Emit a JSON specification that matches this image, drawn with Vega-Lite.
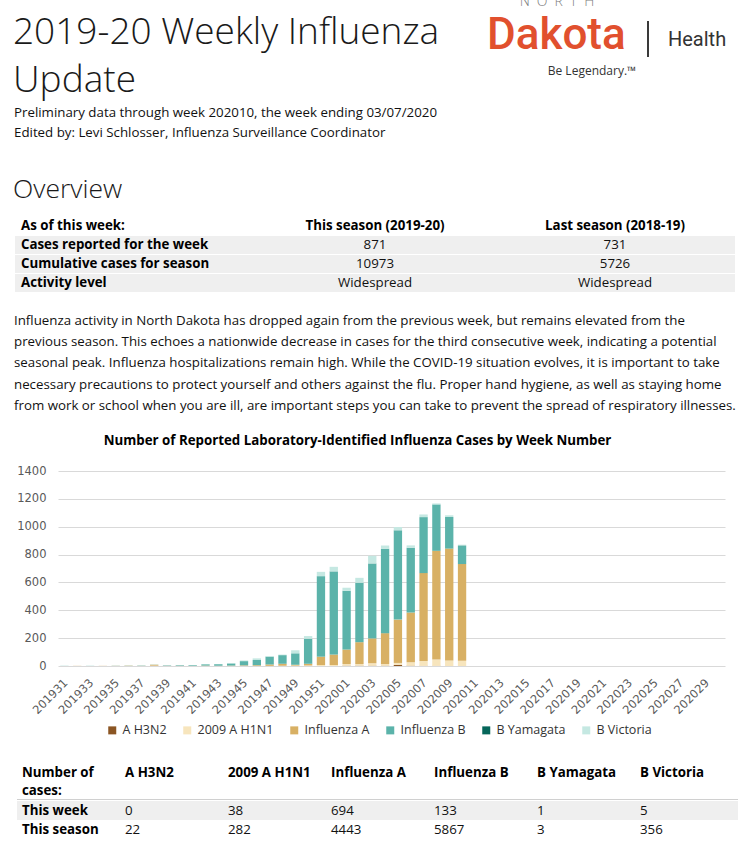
{
  "$schema": "https://vega.github.io/schema/vega-lite/v6.json",
  "padding": 0,
  "background": "white",
  "bounds": "flush",
  "spacing": 0,
  "config": {"view": {"stroke": null}, "font": "Open Sans"},
  "datasets": {
    "flu": [
      {"week":"201931","type":"Influenza B","cases":1},
      {"week":"201932","type":"Influenza A","cases":1},
      {"week":"201933","type":"Influenza B","cases":1},
      {"week":"201934","type":"Influenza A","cases":1},
      {"week":"201935","type":"Influenza A","cases":1},{"week":"201935","type":"Influenza B","cases":1},
      {"week":"201936","type":"Influenza A","cases":2},{"week":"201936","type":"Influenza B","cases":1},
      {"week":"201937","type":"Influenza A","cases":1},{"week":"201937","type":"Influenza B","cases":2},
      {"week":"201938","type":"A H3N2","cases":1},{"week":"201938","type":"2009 A H1N1","cases":2},{"week":"201938","type":"Influenza A","cases":6},{"week":"201938","type":"Influenza B","cases":1},
      {"week":"201939","type":"Influenza A","cases":1},{"week":"201939","type":"Influenza B","cases":3},
      {"week":"201940","type":"Influenza A","cases":1},{"week":"201940","type":"Influenza B","cases":4},
      {"week":"201941","type":"Influenza A","cases":1},{"week":"201941","type":"Influenza B","cases":5},{"week":"201941","type":"B Victoria","cases":1},
      {"week":"201942","type":"2009 A H1N1","cases":1},{"week":"201942","type":"Influenza A","cases":2},{"week":"201942","type":"Influenza B","cases":9},{"week":"201942","type":"B Victoria","cases":1},
      {"week":"201943","type":"2009 A H1N1","cases":1},{"week":"201943","type":"Influenza A","cases":1},{"week":"201943","type":"Influenza B","cases":11},{"week":"201943","type":"B Victoria","cases":1},
      {"week":"201944","type":"2009 A H1N1","cases":1},{"week":"201944","type":"Influenza A","cases":2},{"week":"201944","type":"Influenza B","cases":15},{"week":"201944","type":"B Victoria","cases":2},
      {"week":"201945","type":"A H3N2","cases":1},{"week":"201945","type":"2009 A H1N1","cases":1},{"week":"201945","type":"Influenza A","cases":3},{"week":"201945","type":"Influenza B","cases":30},{"week":"201945","type":"B Victoria","cases":5},
      {"week":"201946","type":"2009 A H1N1","cases":1},{"week":"201946","type":"Influenza A","cases":5},{"week":"201946","type":"Influenza B","cases":37},{"week":"201946","type":"B Victoria","cases":12},
      {"week":"201947","type":"2009 A H1N1","cases":1},{"week":"201947","type":"Influenza A","cases":10},{"week":"201947","type":"Influenza B","cases":56},{"week":"201947","type":"B Victoria","cases":5},
      {"week":"201948","type":"2009 A H1N1","cases":2},{"week":"201948","type":"Influenza A","cases":14},{"week":"201948","type":"Influenza B","cases":62},{"week":"201948","type":"B Victoria","cases":4},
      {"week":"201949","type":"2009 A H1N1","cases":3},{"week":"201949","type":"Influenza A","cases":6},{"week":"201949","type":"Influenza B","cases":82},{"week":"201949","type":"B Victoria","cases":22},
      {"week":"201950","type":"2009 A H1N1","cases":4},{"week":"201950","type":"Influenza A","cases":12},{"week":"201950","type":"Influenza B","cases":180},{"week":"201950","type":"B Victoria","cases":19},
      {"week":"201951","type":"2009 A H1N1","cases":7},{"week":"201951","type":"Influenza A","cases":60},{"week":"201951","type":"Influenza B","cases":578},{"week":"201951","type":"B Victoria","cases":31},
      {"week":"201952","type":"2009 A H1N1","cases":7},{"week":"201952","type":"Influenza A","cases":75},{"week":"201952","type":"Influenza B","cases":596},{"week":"201952","type":"B Yamagata","cases":1},{"week":"201952","type":"B Victoria","cases":33},
      {"week":"202001","type":"A H3N2","cases":2},{"week":"202001","type":"2009 A H1N1","cases":12},{"week":"202001","type":"Influenza A","cases":104},{"week":"202001","type":"Influenza B","cases":422},{"week":"202001","type":"B Victoria","cases":22},
      {"week":"202002","type":"A H3N2","cases":2},{"week":"202002","type":"2009 A H1N1","cases":12},{"week":"202002","type":"Influenza A","cases":157},{"week":"202002","type":"Influenza B","cases":427},{"week":"202002","type":"B Victoria","cases":35},
      {"week":"202003","type":"A H3N2","cases":2},{"week":"202003","type":"2009 A H1N1","cases":18},{"week":"202003","type":"Influenza A","cases":178},{"week":"202003","type":"Influenza B","cases":537},{"week":"202003","type":"B Yamagata","cases":1},{"week":"202003","type":"B Victoria","cases":55},
      {"week":"202004","type":"A H3N2","cases":2},{"week":"202004","type":"2009 A H1N1","cases":12},{"week":"202004","type":"Influenza A","cases":222},{"week":"202004","type":"Influenza B","cases":605},{"week":"202004","type":"B Victoria","cases":24},
      {"week":"202005","type":"A H3N2","cases":8},{"week":"202005","type":"2009 A H1N1","cases":14},{"week":"202005","type":"Influenza A","cases":311},{"week":"202005","type":"Influenza B","cases":641},{"week":"202005","type":"B Victoria","cases":24},
      {"week":"202006","type":"A H3N2","cases":2},{"week":"202006","type":"2009 A H1N1","cases":25},{"week":"202006","type":"Influenza A","cases":357},{"week":"202006","type":"Influenza B","cases":465},{"week":"202006","type":"B Victoria","cases":17},
      {"week":"202007","type":"A H3N2","cases":1},{"week":"202007","type":"2009 A H1N1","cases":35},{"week":"202007","type":"Influenza A","cases":631},{"week":"202007","type":"Influenza B","cases":402},{"week":"202007","type":"B Victoria","cases":19},
      {"week":"202008","type":"A H3N2","cases":1},{"week":"202008","type":"2009 A H1N1","cases":45},{"week":"202008","type":"Influenza A","cases":781},{"week":"202008","type":"Influenza B","cases":333},{"week":"202008","type":"B Victoria","cases":7},
      {"week":"202009","type":"2009 A H1N1","cases":40},{"week":"202009","type":"Influenza A","cases":803},{"week":"202009","type":"Influenza B","cases":227},{"week":"202009","type":"B Victoria","cases":12},
      {"week":"202010","type":"A H3N2","cases":0},{"week":"202010","type":"2009 A H1N1","cases":38},{"week":"202010","type":"Influenza A","cases":694},{"week":"202010","type":"Influenza B","cases":133},{"week":"202010","type":"B Yamagata","cases":1},{"week":"202010","type":"B Victoria","cases":5}
    ]
  },
  "vconcat": [
    {
      "width": 743,
      "height": 205,
      "layer": [
        {
          "data": {"values": [{"line": 1, "text": "2019-20 Weekly Influenza"}, {"line": 2, "text": "Update"}]},
          "mark": {"type": "text", "align": "left", "baseline": "middle", "font": "Open Sans", "fontSize": 37, "fontWeight": 300, "color": "#1a1a1a"},
          "encoding": {
            "x": {"field": "line", "type": "ordinal", "scale": {"type": "point", "range": [13, 13]}, "axis": null},
            "y": {"field": "line", "type": "ordinal", "scale": {"type": "point", "domain": [1, 2], "range": [33, 81], "padding": 0}, "axis": null},
            "text": {"field": "text"}
          }
        },
        {
          "data": {"values": [{"line": 1, "text": "Preliminary data through week 202010, the week ending 03/07/2020"}, {"line": 2, "text": "Edited by: Levi Schlosser, Influenza Surveillance Coordinator"}]},
          "mark": {"type": "text", "align": "left", "baseline": "middle", "font": "Open Sans", "fontSize": 13.3, "color": "#111111"},
          "encoding": {
            "x": {"field": "line", "type": "ordinal", "scale": {"type": "point", "range": [14, 14]}, "axis": null},
            "y": {"field": "line", "type": "ordinal", "scale": {"type": "point", "domain": [1, 2], "range": [113, 133], "padding": 0}, "axis": null},
            "text": {"field": "text"}
          }
        },
        {
          "data": {"values": [{"line": 1, "text": "Overview"}]},
          "mark": {"type": "text", "align": "left", "baseline": "middle", "font": "Open Sans", "fontSize": 26.5, "fontWeight": 300, "color": "#1a1a1a"},
          "encoding": {
            "x": {"field": "line", "type": "ordinal", "scale": {"type": "point", "range": [13, 13]}, "axis": null},
            "y": {"field": "line", "type": "ordinal", "scale": {"type": "point", "range": [190, 190]}, "axis": null},
            "text": {"field": "text"}
          }
        },
        {
          "data": {"values": [{"part": "north", "text": "N\u2002O\u2002R\u2002T\u2002H"}]},
          "mark": {"type": "text", "align": "center", "baseline": "middle", "font": "Open Sans", "fontSize": 14, "fontWeight": 300, "color": "#808080", "clip": true},
          "encoding": {
            "x": {"field": "part", "type": "nominal", "scale": {"type": "point", "range": [557, 557]}, "axis": null},
            "y": {"field": "part", "type": "nominal", "scale": {"type": "point", "range": [2, 2]}, "axis": null},
            "text": {"field": "text"}
          }
        },
        {
          "data": {"values": [{"part": "dakota", "text": "Dakota"}]},
          "mark": {"type": "text", "align": "left", "baseline": "middle", "font": "Roboto", "fontSize": 44, "fontWeight": 500, "color": "#E1502E"},
          "encoding": {
            "x": {"field": "part", "type": "nominal", "scale": {"type": "point", "range": [487, 487]}, "axis": null},
            "y": {"field": "part", "type": "nominal", "scale": {"type": "point", "range": [36, 36]}, "axis": null},
            "text": {"field": "text"}
          }
        },
        {
          "data": {"values": [{"part": "health", "text": "Health"}]},
          "mark": {"type": "text", "align": "left", "baseline": "middle", "font": "Roboto", "fontSize": 20, "color": "#333333"},
          "encoding": {
            "x": {"field": "part", "type": "nominal", "scale": {"type": "point", "range": [668, 668]}, "axis": null},
            "y": {"field": "part", "type": "nominal", "scale": {"type": "point", "range": [40, 40]}, "axis": null},
            "text": {"field": "text"}
          }
        },
        {
          "data": {"values": [{"part": "divider"}]},
          "mark": {"type": "rect", "color": "#3a3a3a"},
          "encoding": {
            "x": {"field": "part", "type": "nominal", "scale": {"type": "band", "range": [647, 649], "padding": 0}, "axis": null},
            "y": {"field": "part", "type": "nominal", "scale": {"type": "band", "range": [21, 57], "padding": 0}, "axis": null}
          }
        },
        {
          "data": {"values": [{"part": "tagline", "text": "Be Legendary.\u2122"}]},
          "mark": {"type": "text", "align": "center", "baseline": "middle", "font": "Open Sans", "fontSize": 12, "color": "#333333"},
          "encoding": {
            "x": {"field": "part", "type": "nominal", "scale": {"type": "point", "range": [592, 592]}, "axis": null},
            "y": {"field": "part", "type": "nominal", "scale": {"type": "point", "range": [71, 71]}, "axis": null},
            "text": {"field": "text"}
          }
        }
      ],
      "resolve": {"scale": {"x": "independent", "y": "independent"}}
    },
    {
      "width": 743,
      "height": 95,
      "data": {"values": [
        {"row": "head", "col": "label", "text": "As of this week:"},
        {"row": "head", "col": "this", "text": "This season (2019-20)"},
        {"row": "head", "col": "last", "text": "Last season (2018-19)"},
        {"row": "week", "col": "label", "text": "Cases reported for the week"},
        {"row": "week", "col": "this", "text": "871"},
        {"row": "week", "col": "last", "text": "731"},
        {"row": "cum", "col": "label", "text": "Cumulative cases for season"},
        {"row": "cum", "col": "this", "text": "10973"},
        {"row": "cum", "col": "last", "text": "5726"},
        {"row": "level", "col": "label", "text": "Activity level"},
        {"row": "level", "col": "this", "text": "Widespread"},
        {"row": "level", "col": "last", "text": "Widespread"}
      ]},
      "layer": [
        {
          "transform": [{"filter": "datum.row !== 'head'"}],
          "mark": {"type": "rect", "color": "#EFEFEF"},
          "encoding": {
            "x": {"field": "col", "type": "nominal", "scale": {"type": "band", "domain": ["label", "this", "last"], "range": [15, 735], "paddingInner": 0, "paddingOuter": 0}, "axis": null},
            "y": {"field": "row", "type": "nominal", "scale": {"type": "band", "domain": ["head", "week", "cum", "level"], "range": [11.5, 87.5], "paddingInner": 0.05, "paddingOuter": 0.025}, "axis": null}
          }
        },
        {
          "transform": [{"filter": "datum.col === 'label'"}],
          "mark": {"type": "text", "align": "left", "baseline": "middle", "dx": 6, "font": "Open Sans", "fontSize": 13.3, "fontWeight": "bold", "color": "#000000"},
          "encoding": {
            "x": {"field": "col", "type": "nominal", "bandPosition": 0, "scale": {"type": "band", "domain": ["label", "this", "last"], "range": [15, 735], "paddingInner": 0, "paddingOuter": 0}, "axis": null},
            "y": {"field": "row", "type": "nominal", "bandPosition": 0.5, "scale": {"type": "band", "domain": ["head", "week", "cum", "level"], "range": [11.5, 87.5], "paddingInner": 0.05, "paddingOuter": 0.025}, "axis": null},
            "text": {"field": "text"}
          }
        },
        {
          "transform": [{"filter": "datum.row === 'head' && datum.col !== 'label'"}],
          "mark": {"type": "text", "align": "center", "baseline": "middle", "font": "Open Sans", "fontSize": 13.3, "fontWeight": "bold", "color": "#000000"},
          "encoding": {
            "x": {"field": "col", "type": "nominal", "bandPosition": 0.5, "scale": {"type": "band", "domain": ["label", "this", "last"], "range": [15, 735], "paddingInner": 0, "paddingOuter": 0}, "axis": null},
            "y": {"field": "row", "type": "nominal", "bandPosition": 0.5, "scale": {"type": "band", "domain": ["head", "week", "cum", "level"], "range": [11.5, 87.5], "paddingInner": 0.05, "paddingOuter": 0.025}, "axis": null},
            "text": {"field": "text"}
          }
        },
        {
          "transform": [{"filter": "datum.row !== 'head' && datum.col !== 'label'"}],
          "mark": {"type": "text", "align": "center", "baseline": "middle", "font": "Open Sans", "fontSize": 13.3, "color": "#111111"},
          "encoding": {
            "x": {"field": "col", "type": "nominal", "bandPosition": 0.5, "scale": {"type": "band", "domain": ["label", "this", "last"], "range": [15, 735], "paddingInner": 0, "paddingOuter": 0}, "axis": null},
            "y": {"field": "row", "type": "nominal", "bandPosition": 0.5, "scale": {"type": "band", "domain": ["head", "week", "cum", "level"], "range": [11.5, 87.5], "paddingInner": 0.05, "paddingOuter": 0.025}, "axis": null},
            "text": {"field": "text"}
          }
        }
      ]
    },
    {
      "width": 743,
      "height": 171,
      "data": {"values": [
        {"line": 1, "text": "Influenza activity in North Dakota has dropped again from the previous week, but remains elevated from the"},
        {"line": 2, "text": "previous season. This echoes a nationwide decrease in cases for the third consecutive week, indicating a potential"},
        {"line": 3, "text": "seasonal peak. Influenza hospitalizations remain high. While the COVID-19 situation evolves, it is important to take"},
        {"line": 4, "text": "necessary precautions to protect yourself and others against the flu. Proper hand hygiene, as well as staying home"},
        {"line": 5, "text": "from work or school when you are ill, are important steps you can take to prevent the spread of respiratory illnesses."}
      ]},
      "mark": {"type": "text", "align": "left", "baseline": "middle", "font": "Open Sans", "fontSize": 13.3, "color": "#111111"},
      "encoding": {
        "x": {"field": "line", "type": "ordinal", "scale": {"type": "point", "range": [14, 14]}, "axis": null},
        "y": {"field": "line", "type": "ordinal", "scale": {"type": "point", "domain": [1, 2, 3, 4, 5], "range": [21, 105.8], "padding": 0}, "axis": null},
        "text": {"field": "text"}
      }
    },
    {
      "width": 743,
      "height": 195,
      "title": {"text": "Number of Reported Laboratory-Identified Influenza Cases by Week Number", "font": "Open Sans", "fontSize": 13.3, "fontWeight": "bold", "color": "#000000", "anchor": "middle", "dx": -14, "offset": 18},
      "data": {"name": "flu"},
      "transform": [
        {"calculate": "indexof(['A H3N2', '2009 A H1N1', 'Influenza A', 'Influenza B', 'B Yamagata', 'B Victoria'], datum.type)", "as": "stack_rank"}
      ],
      "mark": {"type": "bar"},
      "encoding": {
        "x": {
          "field": "week", "type": "ordinal",
          "scale": {
            "domain": ["201931","201932","201933","201934","201935","201936","201937","201938","201939","201940","201941","201942","201943","201944","201945","201946","201947","201948","201949","201950","201951","201952","202001","202002","202003","202004","202005","202006","202007","202008","202009","202010","202011","202012","202013","202014","202015","202016","202017","202018","202019","202020","202021","202022","202023","202024","202025","202026","202027","202028","202029","202030"],
            "range": [58, 725], "paddingInner": 0.35, "paddingOuter": 0.175
          },
          "axis": {
            "values": ["201931","201933","201935","201937","201939","201941","201943","201945","201947","201949","201951","202001","202003","202005","202007","202009","202011","202013","202015","202017","202019","202021","202023","202025","202027","202029"],
            "labelAngle": -45, "labelAlign": "right", "labelBaseline": "middle", "labelFont": "DejaVu Sans", "labelFontSize": 11.5, "labelColor": "#595959",
            "ticks": false, "domain": false, "grid": false, "title": null, "labelPadding": 15, "labelOffset": 2, "labelOverlap": false
          }
        },
        "y": {
          "field": "cases", "type": "quantitative", "stack": "zero",
          "scale": {"domain": [0, 1400]},
          "axis": {
            "values": [0, 200, 400, 600, 800, 1000, 1200, 1400], "format": "d", "offset": -58, "labelPadding": 12, "ticks": false, "domain": false,
            "grid": true, "gridColor": "#D9D9D9", "gridWidth": 1, "labelFont": "DejaVu Sans", "labelFontSize": 11.5, "labelColor": "#595959", "title": null
          }
        },
        "color": {
          "field": "type", "type": "nominal",
          "scale": {"domain": ["A H3N2", "2009 A H1N1", "Influenza A", "Influenza B", "B Yamagata", "B Victoria"], "range": ["#8B5523", "#F7E5BD", "#D8B064", "#5BB3AA", "#06665A", "#C5E8E2"]},
          "legend": {
            "orient": "none", "legendX": 106, "legendY": 724, "direction": "horizontal", "columns": 6, "title": null,
            "symbolType": "square", "symbolSize": 64, "symbolStrokeWidth": 0, "labelFont": "Open Sans", "labelFontSize": 12.5, "labelColor": "#333333",
            "columnPadding": 14, "labelOffset": 4
          }
        },
        "order": {"field": "stack_rank", "type": "quantitative", "sort": "ascending"}
      }
    },
    {
      "width": 743,
      "height": 175,
      "data": {"values": [
        {"row": "head", "col": "label", "text": "Number of\ncases:"},
        {"row": "head", "col": "h3n2", "text": "A H3N2"},
        {"row": "head", "col": "h1n1", "text": "2009 A H1N1"},
        {"row": "head", "col": "a", "text": "Influenza A"},
        {"row": "head", "col": "b", "text": "Influenza B"},
        {"row": "head", "col": "yam", "text": "B Yamagata"},
        {"row": "head", "col": "vic", "text": "B Victoria"},
        {"row": "week", "col": "label", "text": "This week"},
        {"row": "week", "col": "h3n2", "text": "0"},
        {"row": "week", "col": "h1n1", "text": "38"},
        {"row": "week", "col": "a", "text": "694"},
        {"row": "week", "col": "b", "text": "133"},
        {"row": "week", "col": "yam", "text": "1"},
        {"row": "week", "col": "vic", "text": "5"},
        {"row": "season", "col": "label", "text": "This season"},
        {"row": "season", "col": "h3n2", "text": "22"},
        {"row": "season", "col": "h1n1", "text": "282"},
        {"row": "season", "col": "a", "text": "4443"},
        {"row": "season", "col": "b", "text": "5867"},
        {"row": "season", "col": "yam", "text": "3"},
        {"row": "season", "col": "vic", "text": "356"}
      ]},
      "layer": [
        {
          "transform": [{"filter": "datum.row === 'week'"}],
          "mark": {"type": "rect", "color": "#EFEFEF"},
          "encoding": {
            "x": {"field": "col", "type": "nominal", "scale": {"type": "band", "domain": ["label", "h3n2", "h1n1", "a", "b", "yam", "vic"], "range": [17, 738], "paddingInner": 0, "paddingOuter": 0}, "axis": null},
            "y": {"field": "row", "type": "nominal", "scale": {"type": "band", "domain": ["week", "season"], "range": [135, 173], "paddingInner": 0, "paddingOuter": 0}, "axis": null}
          }
        },
        {
          "transform": [{"filter": "datum.row === 'head'"}],
          "mark": {"type": "rect", "color": "#D0D0D0"},
          "encoding": {
            "x": {"field": "col", "type": "nominal", "scale": {"type": "band", "domain": ["label", "h3n2", "h1n1", "a", "b", "yam", "vic"], "range": [17, 738], "paddingInner": 0, "paddingOuter": 0}, "axis": null},
            "y": {"field": "row", "type": "nominal", "scale": {"type": "band", "domain": ["head"], "range": [133, 134], "paddingInner": 0, "paddingOuter": 0}, "axis": null}
          }
        },
        {
          "transform": [{"filter": "datum.row === 'head'"}],
          "mark": {"type": "text", "align": "left", "baseline": "alphabetic", "dx": 5, "lineBreak": "\n", "lineHeight": 18, "font": "Open Sans", "fontSize": 13.3, "fontWeight": "bold", "color": "#000000"},
          "encoding": {
            "x": {"field": "col", "type": "nominal", "bandPosition": 0, "scale": {"type": "band", "domain": ["label", "h3n2", "h1n1", "a", "b", "yam", "vic"], "range": [17, 738], "paddingInner": 0, "paddingOuter": 0}, "axis": null},
            "y": {"field": "row", "type": "nominal", "scale": {"type": "point", "domain": ["head"], "range": [111, 111]}, "axis": null},
            "text": {"field": "text"}
          }
        },
        {
          "transform": [{"filter": "datum.row !== 'head' && datum.col === 'label'"}],
          "mark": {"type": "text", "align": "left", "baseline": "middle", "dx": 5, "font": "Open Sans", "fontSize": 13.3, "fontWeight": "bold", "color": "#000000"},
          "encoding": {
            "x": {"field": "col", "type": "nominal", "bandPosition": 0, "scale": {"type": "band", "domain": ["label", "h3n2", "h1n1", "a", "b", "yam", "vic"], "range": [17, 738], "paddingInner": 0, "paddingOuter": 0}, "axis": null},
            "y": {"field": "row", "type": "nominal", "bandPosition": 0.5, "scale": {"type": "band", "domain": ["week", "season"], "range": [135, 173], "paddingInner": 0, "paddingOuter": 0}, "axis": null},
            "text": {"field": "text"}
          }
        },
        {
          "transform": [{"filter": "datum.row !== 'head' && datum.col !== 'label'"}],
          "mark": {"type": "text", "align": "left", "baseline": "middle", "dx": 5, "font": "Open Sans", "fontSize": 13.3, "color": "#111111"},
          "encoding": {
            "x": {"field": "col", "type": "nominal", "bandPosition": 0, "scale": {"type": "band", "domain": ["label", "h3n2", "h1n1", "a", "b", "yam", "vic"], "range": [17, 738], "paddingInner": 0, "paddingOuter": 0}, "axis": null},
            "y": {"field": "row", "type": "nominal", "bandPosition": 0.5, "scale": {"type": "band", "domain": ["week", "season"], "range": [135, 173], "paddingInner": 0, "paddingOuter": 0}, "axis": null},
            "text": {"field": "text"}
          }
        }
      ],
      "resolve": {"scale": {"y": "independent"}}
    }
  ]
}
